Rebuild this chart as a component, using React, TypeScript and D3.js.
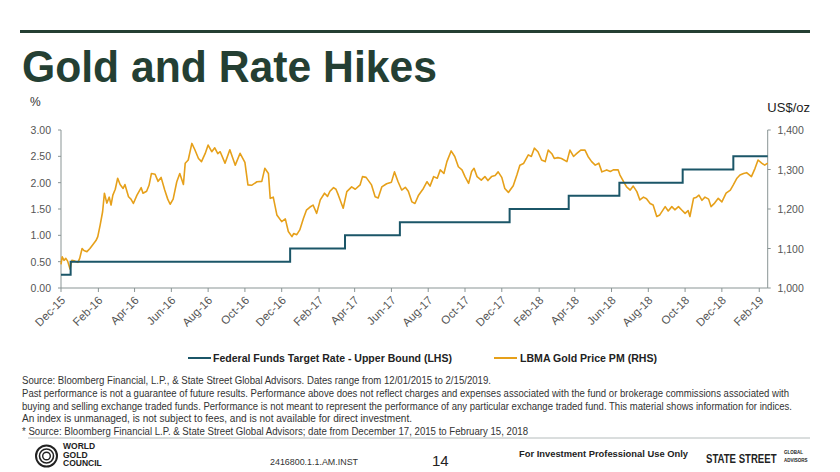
import React from "react";
import * as d3 from "d3";

const title = "Gold and Rate Hikes";
const leftUnit = "%";
const rightUnit = "US$/oz";
const leftTicks = [0, 0.5, 1, 1.5, 2, 2.5, 3];
const rightTicks = [1000, 1100, 1200, 1300, 1400];
const xTickLabels = ["Dec-15", "Feb-16", "Apr-16", "Jun-16", "Aug-16", "Oct-16", "Dec-16", "Feb-17", "Apr-17", "Jun-17", "Aug-17", "Oct-17", "Dec-17", "Feb-18", "Apr-18", "Jun-18", "Aug-18", "Oct-18", "Dec-18", "Feb-19"];
const dateStart = "2015-12-01";
const dateEnd = "2019-02-15";

const rateSeries: [string, number][] = [
  ["2015-12-01", 0.25], ["2015-12-17", 0.5], ["2016-12-15", 0.75], ["2017-03-16", 1.0],
  ["2017-06-15", 1.25], ["2017-12-14", 1.5], ["2018-03-22", 1.75], ["2018-06-14", 2.0],
  ["2018-09-27", 2.25], ["2018-12-20", 2.5], ["2019-02-15", 2.5],
];

const goldSeries: [string, number][] = [
  ["2015-12-01", 1060], ["2015-12-03", 1079], ["2015-12-06", 1070], ["2015-12-09", 1075], ["2015-12-12", 1068],
  ["2015-12-16", 1048], ["2015-12-19", 1070], ["2015-12-24", 1068], ["2015-12-29", 1065], ["2016-01-01", 1075],
  ["2016-01-05", 1100], ["2016-01-08", 1095], ["2016-01-13", 1092], ["2016-01-18", 1100], ["2016-01-23", 1110],
  ["2016-01-28", 1120], ["2016-01-31", 1130], ["2016-02-04", 1160], ["2016-02-08", 1193], ["2016-02-11", 1240],
  ["2016-02-15", 1215], ["2016-02-19", 1230], ["2016-02-22", 1210], ["2016-02-25", 1235], ["2016-02-29", 1250],
  ["2016-03-04", 1278], ["2016-03-08", 1262], ["2016-03-13", 1252], ["2016-03-16", 1262], ["2016-03-22", 1231],
  ["2016-03-26", 1225], ["2016-03-30", 1214], ["2016-04-05", 1235], ["2016-04-12", 1254], ["2016-04-15", 1240],
  ["2016-04-21", 1245], ["2016-04-25", 1260], ["2016-04-29", 1290], ["2016-05-05", 1288], ["2016-05-10", 1270],
  ["2016-05-15", 1280], ["2016-05-21", 1248], ["2016-05-26", 1225], ["2016-05-30", 1212], ["2016-06-04", 1225],
  ["2016-06-10", 1269], ["2016-06-15", 1290], ["2016-06-21", 1262], ["2016-06-24", 1316], ["2016-06-29", 1324],
  ["2016-07-05", 1366], ["2016-07-10", 1350], ["2016-07-16", 1328], ["2016-07-21", 1320], ["2016-07-27", 1340],
  ["2016-08-01", 1362], ["2016-08-07", 1345], ["2016-08-12", 1355], ["2016-08-17", 1340], ["2016-08-21", 1345],
  ["2016-08-29", 1316], ["2016-09-06", 1350], ["2016-09-15", 1311], ["2016-09-23", 1341], ["2016-10-01", 1318],
  ["2016-10-06", 1261], ["2016-10-12", 1260], ["2016-10-21", 1269], ["2016-10-29", 1270], ["2016-11-03", 1303],
  ["2016-11-09", 1290], ["2016-11-12", 1227], ["2016-11-17", 1230], ["2016-11-23", 1185], ["2016-12-01", 1168],
  ["2016-12-07", 1175], ["2016-12-12", 1143], ["2016-12-18", 1130], ["2016-12-21", 1138], ["2016-12-26", 1135],
  ["2016-12-31", 1147], ["2017-01-06", 1176], ["2017-01-11", 1197], ["2017-01-17", 1205], ["2017-01-22", 1210],
  ["2017-01-28", 1189], ["2017-02-03", 1223], ["2017-02-10", 1240], ["2017-02-15", 1232], ["2017-02-19", 1245],
  ["2017-02-25", 1254], ["2017-03-01", 1250], ["2017-03-05", 1235], ["2017-03-13", 1202], ["2017-03-19", 1244],
  ["2017-03-27", 1256], ["2017-04-02", 1250], ["2017-04-10", 1261], ["2017-04-14", 1282], ["2017-04-20", 1280],
  ["2017-04-29", 1261], ["2017-05-05", 1231], ["2017-05-10", 1228], ["2017-05-16", 1256], ["2017-05-24", 1264],
  ["2017-06-01", 1268], ["2017-06-06", 1294], ["2017-06-12", 1269], ["2017-06-18", 1248], ["2017-06-24", 1255],
  ["2017-06-29", 1245], ["2017-07-05", 1218], ["2017-07-10", 1214], ["2017-07-16", 1235], ["2017-07-24", 1252],
  ["2017-07-30", 1269], ["2017-08-04", 1258], ["2017-08-10", 1282], ["2017-08-16", 1278], ["2017-08-21", 1299],
  ["2017-08-27", 1290], ["2017-09-01", 1320], ["2017-09-08", 1347], ["2017-09-14", 1333], ["2017-09-20", 1307],
  ["2017-09-26", 1299], ["2017-10-01", 1282], ["2017-10-07", 1265], ["2017-10-12", 1295], ["2017-10-16", 1303],
  ["2017-10-21", 1282], ["2017-10-28", 1273], ["2017-11-03", 1282], ["2017-11-08", 1272], ["2017-11-14", 1282],
  ["2017-11-20", 1285], ["2017-11-25", 1294], ["2017-12-01", 1280], ["2017-12-06", 1252], ["2017-12-12", 1242],
  ["2017-12-20", 1259], ["2017-12-26", 1286], ["2017-12-31", 1311], ["2018-01-06", 1315], ["2018-01-14", 1337],
  ["2018-01-19", 1333], ["2018-01-24", 1354], ["2018-01-30", 1345], ["2018-02-05", 1324], ["2018-02-11", 1320],
  ["2018-02-16", 1349], ["2018-02-22", 1340], ["2018-02-26", 1328], ["2018-03-04", 1330], ["2018-03-10", 1328],
  ["2018-03-19", 1320], ["2018-03-24", 1349], ["2018-03-30", 1333], ["2018-04-04", 1340], ["2018-04-11", 1349],
  ["2018-04-18", 1349], ["2018-04-23", 1333], ["2018-04-29", 1320], ["2018-05-05", 1311], ["2018-05-11", 1316],
  ["2018-05-16", 1294], ["2018-05-24", 1299], ["2018-05-30", 1295], ["2018-06-04", 1299], ["2018-06-12", 1299],
  ["2018-06-15", 1286], ["2018-06-21", 1269], ["2018-06-26", 1256], ["2018-07-02", 1248], ["2018-07-07", 1258],
  ["2018-07-13", 1244], ["2018-07-18", 1223], ["2018-07-24", 1230], ["2018-07-29", 1226], ["2018-08-04", 1214],
  ["2018-08-09", 1210], ["2018-08-15", 1181], ["2018-08-20", 1185], ["2018-08-29", 1206], ["2018-09-03", 1195],
  ["2018-09-09", 1206], ["2018-09-14", 1198], ["2018-09-20", 1206], ["2018-09-25", 1198], ["2018-10-01", 1189],
  ["2018-10-06", 1196], ["2018-10-09", 1181], ["2018-10-15", 1227], ["2018-10-20", 1230], ["2018-10-24", 1235],
  ["2018-10-29", 1222], ["2018-11-03", 1230], ["2018-11-09", 1225], ["2018-11-13", 1206], ["2018-11-19", 1215],
  ["2018-11-25", 1227], ["2018-12-01", 1218], ["2018-12-08", 1240], ["2018-12-15", 1248], ["2018-12-20", 1261],
  ["2018-12-26", 1278], ["2018-12-31", 1286], ["2019-01-06", 1290], ["2019-01-11", 1292], ["2019-01-19", 1282],
  ["2019-01-25", 1303], ["2019-01-30", 1324], ["2019-02-05", 1316], ["2019-02-10", 1311], ["2019-02-15", 1316],
];

const legendLabels = ["Federal Funds Target Rate - Upper Bound (LHS)", "LBMA Gold Price PM (RHS)"];
const sourceLines = [
  "Source: Bloomberg Financial, L.P., & State Street Global Advisors. Dates range from 12/01/2015 to 2/15/2019.",
  "Past performance is not a guarantee of future results. Performance above does not reflect charges and expenses associated with the fund or brokerage commissions associated with",
  "buying and selling exchange traded funds. Performance is not meant to represent the performance of any particular exchange traded fund. This material shows information for indices.",
  "An index is unmanaged, is not subject to fees, and is not available for direct investment.",
  "* Source: Bloomberg Financial L.P. & State Street Global Advisors; date from December 17, 2015 to February 15, 2018",
];
const sourceWidths = [469, 767, 770, 390, 506];

const GREEN = "#243f33";
const GOLD = "#e6a01a";
const RATE = "#1b5668";
const AXIS = "#8a9595";
const LABEL = "#555";
const FONT = "'Liberation Sans', Arial, sans-serif";

export default function App() {
  const parse = d3.timeParse("%Y-%m-%d");
  const parseTick = d3.timeParse("%b-%y");
  const left = 61, right = 767.7, top = 130, bottom = 288;
  const x = d3.scaleTime().domain([parse(dateStart)!, parse(dateEnd)!]).range([left, right]);
  const yL = d3.scaleLinear().domain([0, 3]).range([bottom, top]);
  const yR = d3.scaleLinear().domain([1000, 1400]).range([bottom, top]);

  const rateLine = d3.line<[string, number]>()
    .x(d => x(parse(d[0])!))
    .y(d => yL(d[1]))
    .curve(d3.curveStepAfter);
  const goldLine = d3.line<[string, number]>()
    .x(d => x(parse(d[0])!))
    .y(d => yR(d[1]));

  const fmtL = d3.format(".2f");
  const fmtR = d3.format(",");

  return (
    <svg width={840} height={472} style={{ position: "absolute", left: 0, top: 0, background: "#fff" }} fontFamily={FONT}>
      <rect x={0} y={0} width={840} height={472} fill="#fff" />
      <rect x={20} y={30} width={790} height={3} fill={GREEN} />
      <text x={22} y={82} fontSize={44} fontWeight="bold" fill={GREEN} textLength={415} lengthAdjust="spacingAndGlyphs">{title}</text>

      <text x={30} y={106} fontSize={12} fill="#333">{leftUnit}</text>
      <text x={810} y={112} fontSize={13} fill="#222" textAnchor="end">{rightUnit}</text>

      {/* axes */}
      <line x1={left} y1={top} x2={left} y2={bottom} stroke={AXIS} strokeWidth={1} />
      <line x1={right} y1={top} x2={right} y2={bottom} stroke={AXIS} strokeWidth={1} />
      <line x1={left} y1={bottom} x2={right} y2={bottom} stroke={AXIS} strokeWidth={1} />
      {leftTicks.map(t => (
        <g key={"l" + t}>
          <line x1={left - 3} x2={left} y1={yL(t)} y2={yL(t)} stroke={AXIS} />
          <text x={51} y={yL(t) + 4} fontSize={10.5} fill={LABEL} textAnchor="end">{fmtL(t)}</text>
        </g>
      ))}
      {rightTicks.map(t => (
        <g key={"r" + t}>
          <line x1={right} x2={right + 3} y1={yR(t)} y2={yR(t)} stroke={AXIS} />
          <text x={777.5} y={yR(t) + 4} fontSize={10.5} fill={LABEL}>{fmtR(t)}</text>
        </g>
      ))}
      {xTickLabels.map(lbl => {
        const xv = x(parseTick(lbl)!);
        return (
          <g key={lbl}>
            <line x1={xv} x2={xv} y1={bottom} y2={bottom + 4} stroke={AXIS} />
            <text transform={`translate(${xv + 5},${bottom + 13}) rotate(-45)`} fontSize={11.5} fill={LABEL} textAnchor="end">{lbl}</text>
          </g>
        );
      })}

      <path d={goldLine(goldSeries) || ""} fill="none" stroke={GOLD} strokeWidth={1.6} strokeLinejoin="round" />
      <path d={rateLine(rateSeries) || ""} fill="none" stroke={RATE} strokeWidth={2} />

      {/* legend */}
      <line x1={188} x2={211} y1={358} y2={358} stroke={RATE} strokeWidth={2} />
      <text x={213} y={362} fontSize={11} fontWeight="bold" fill="#222" textLength={239} lengthAdjust="spacingAndGlyphs">{legendLabels[0]}</text>
      <line x1={494} x2={517} y1={358} y2={358} stroke={GOLD} strokeWidth={2} />
      <text x={520} y={362} fontSize={11} fontWeight="bold" fill="#222" textLength={137} lengthAdjust="spacingAndGlyphs">{legendLabels[1]}</text>

      {sourceLines.map((s, i) => (
        <text key={i} x={22} y={384 + i * 12.8} fontSize={10} fill="#333" textLength={sourceWidths[i]} lengthAdjust="spacingAndGlyphs">{s}</text>
      ))}

      {/* footer */}
      <line x1={28} x2={810} y1={438} y2={438} stroke="#b5bcbc" strokeWidth={1} />
      <g fill="none" stroke="#222">
        <circle cx={46.5} cy={456} r={10.5} strokeWidth={2} />
        <circle cx={46.5} cy={456} r={7} strokeWidth={1.6} />
        <circle cx={46.5} cy={456} r={3.8} strokeWidth={1.4} />
      </g>
      <text x={63} y={449} fontSize={8.5} fontWeight="bold" fill="#222">WORLD</text>
      <text x={63} y={457.5} fontSize={8.5} fontWeight="bold" fill="#222">GOLD</text>
      <text x={63} y={466} fontSize={8.5} fontWeight="bold" fill="#222">COUNCIL</text>
      <text x={270} y={465} fontSize={9} fill="#333" textLength={88} lengthAdjust="spacingAndGlyphs">2416800.1.1.AM.INST</text>
      <text x={432} y={466} fontSize={15} fill="#222">14</text>
      <text x={519} y={457} fontSize={9} fill="#222" fontWeight="bold" textLength={169} lengthAdjust="spacingAndGlyphs">For Investment Professional Use Only</text>
      <text transform="translate(706,463) scale(1,1.3)" fontSize={9.6} fill="#222" fontWeight="bold">STATE STREET</text>
      <text x={784} y={454} fontSize={4.5} fill="#222" fontWeight="bold">GLOBAL</text>
      <text x={784} y={462} fontSize={4.5} fill="#222" fontWeight="bold">ADVISORS</text>
    </svg>
  );
}
